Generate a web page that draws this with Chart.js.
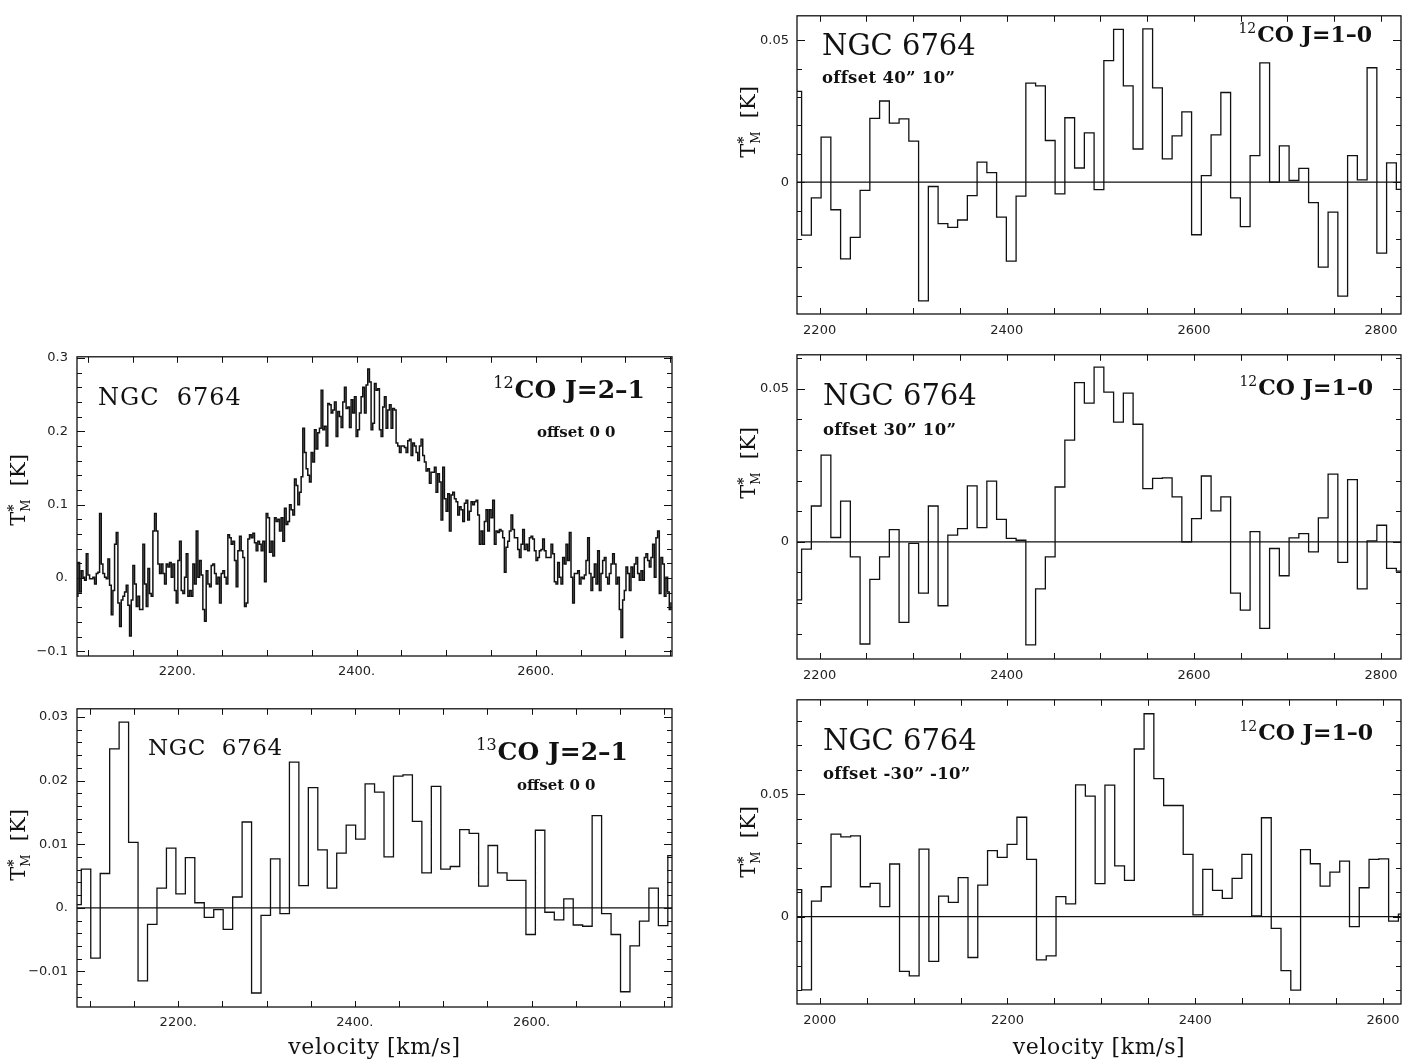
<!DOCTYPE html>
<html>
<head>
<meta charset="utf-8">
<title>NGC 6764 CO spectra</title>
<script src="https://cdn.jsdelivr.net/npm/chart.js@4.4.1/dist/chart.umd.min.js"></script>
<style>
  body { margin: 0; background: #fff; width: 1409px; height: 1064px; position: relative; overflow: hidden; }
  canvas { position: absolute; }
</style>
</head>
<body>
<canvas id="c1"></canvas>
<canvas id="c2"></canvas>
<canvas id="c3"></canvas>
<canvas id="c4"></canvas>
<canvas id="c5"></canvas>
<script>
// ---------------- data (T*M in K) ----------------

// 12CO J=2-1, offset 0 0 : samples start at 2088.1 km/s, one every 1.859 km/s
var co21V0 = 2088.1, co21Dv = 1.859;
var co21T = [
  -0.025, 0.021, -0.019, 0.010, 0.001, -0.003, 0.033, 0.004, -0.001, -0.001,
  0.001, -0.008, 0.006, 0.008, 0.088, 0.019, 0.006, 0.001, -0.001, 0.026,
  -0.010, -0.050, -0.017, 0.046, 0.062, -0.034, -0.066, -0.030, -0.025, -0.019,
  -0.010, -0.037, -0.079, -0.030, 0.017, -0.008, -0.039, -0.025, -0.043, -0.043,
  0.046, -0.008, -0.039, 0.013, -0.021, -0.025, 0.064, 0.088, 0.064, 0.019,
  0.006, 0.019, 0.006, -0.008, 0.019, 0.015, 0.021, 0.001, 0.019, -0.017,
  -0.034, 0.024, 0.050, -0.017, -0.021, 0.001, 0.033, -0.025, -0.017, -0.025,
  0.019, -0.008, 0.064, 0.001, 0.024, 0.004, -0.043, -0.059, 0.010, -0.008,
  -0.012, 0.017, 0.019, 0.006, -0.008, 0.001, -0.034, 0.006, 0.010, 0.001,
  -0.008, 0.059, 0.055, 0.046, 0.050, 0.024, -0.012, 0.037, 0.057, 0.037,
  0.028, -0.039, -0.034, 0.053, 0.059, 0.055, 0.061, 0.048, 0.037, 0.050,
  0.046, 0.037, 0.050, -0.005, 0.088, 0.082, 0.035, 0.050, 0.030, 0.082,
  0.077, 0.080, 0.064, 0.082, 0.050, 0.095, 0.073, 0.077, 0.100, 0.093,
  0.086, 0.135, 0.126, 0.100, 0.117, 0.138, 0.204, 0.171, 0.149, 0.140,
  0.131, 0.171, 0.158, 0.202, 0.176, 0.198, 0.204, 0.256, 0.202, 0.207,
  0.180, 0.238, 0.236, 0.225, 0.229, 0.240, 0.193, 0.227, 0.220, 0.205,
  0.240, 0.260, 0.231, 0.233, 0.205, 0.243, 0.225, 0.247, 0.193, 0.202,
  0.225, 0.247, 0.260, 0.225, 0.263, 0.285, 0.267, 0.202, 0.211, 0.265,
  0.256, 0.258,
  0.202, 0.193, 0.233, 0.247, 0.204, 0.229, 0.236, 0.204, 0.231, 0.229,
  0.184, 0.180, 0.171, 0.180, 0.180, 0.178, 0.171, 0.187, 0.189, 0.167,
  0.184, 0.180, 0.171, 0.160, 0.180, 0.189, 0.167, 0.158, 0.146, 0.149,
  0.129, 0.144, 0.144, 0.151, 0.117, 0.142, 0.131, 0.079, 0.151, 0.108,
  0.091, 0.115, 0.064, 0.113, 0.117, 0.108, 0.104, 0.086, 0.097, 0.093,
  0.077, 0.102, 0.106, 0.079, 0.091, 0.104, 0.100, 0.104, 0.106, 0.086,
  0.046, 0.064, 0.046, 0.077, 0.093, 0.064, 0.093, 0.082, 0.106, 0.046,
  0.064, 0.062, 0.066, 0.064, 0.055, 0.008, 0.042, 0.050, 0.064, 0.086,
  0.066, 0.055, 0.055, 0.039, 0.028, 0.046, 0.066, 0.039, 0.046, 0.037,
  0.055, 0.057, 0.053, 0.037, 0.024, 0.028, 0.037, 0.039, 0.053, 0.037,
  0.028, 0.028, 0.028, 0.046, 0.033, -0.005, -0.008, 0.021, 0.001, -0.008,
  0.028, 0.019, 0.046, 0.024, 0.062, 0.001, -0.034, 0.006, 0.006, 0.010,
  -0.008, 0.001, -0.001, 0.004, 0.024, 0.055, 0.006, -0.017, 0.001, 0.019,
  -0.008, 0.037, -0.017, 0.006, 0.024, 0.028, 0.001, -0.008, 0.006, 0.019,
  0.033, 0.019, -0.008, 0.001, -0.043, -0.081, -0.030, -0.017, 0.015, 0.006,
  -0.017, 0.015, 0.001, 0.019, 0.028, 0.006, -0.003, 0.010, -0.003, 0.028,
  0.033, 0.024, 0.015, 0.028, 0.046, 0.001, 0.055, 0.064, -0.021, 0.028,
  0.019, -0.025, 0.001, -0.019, -0.043, -0.034
];

// 13CO J=2-1, offset 0 0 : channel centres from 2084.9 km/s, width 10.71 km/s
var co13V0 = 2084.9, co13Dv = 10.71;
var co13T = [
  0.0005, 0.0061, -0.0079, 0.0054, 0.0250, 0.0292, 0.0103, -0.0115, -0.0026, 0.0031,
  0.0094, 0.0022, 0.0079, 0.0008, -0.0015, -0.0003, -0.0034, 0.0017, 0.0135, -0.0134,
  -0.0012, 0.0077, -0.0009, 0.0229, 0.0035, 0.0189, 0.0091, 0.0031, 0.0086, 0.0130,
  0.0108, 0.0195, 0.0182, 0.0080, 0.0207, 0.0209, 0.0136, 0.0055, 0.0191, 0.0061,
  0.0065, 0.0123, 0.0117, 0.0034, 0.0098, 0.0055, 0.0043, 0.0043, -0.0042, 0.0122,
  -0.0007, -0.0019, 0.0014, -0.0027, -0.0029, 0.0145, -0.0009, -0.0042, -0.0132, -0.0060,
  -0.0021, 0.0031, -0.0028, 0.0082
];

// 12CO J=1-0 : channel width 10.42 km/s
var co10Dv = 10.42;
var off4010V0 = 2175.5;
var off4010T = [
  0.0320, -0.0186, -0.0055, 0.0159, -0.0097, -0.0270, -0.0194, -0.0029, 0.0225, 0.0286,
  0.0208, 0.0223, 0.0145, -0.0418, -0.0015, -0.0146, -0.0159, -0.0133, -0.0047, 0.0071,
  0.0034, -0.0123, -0.0278, -0.0049, 0.0349, 0.0339, 0.0147, -0.0041, 0.0227, 0.0050,
  0.0174, -0.0026, 0.0428, 0.0538, 0.0339, 0.0117, 0.0540, 0.0332, 0.0082, 0.0163,
  0.0248, -0.0185, 0.0023, 0.0167, 0.0316, -0.0055, -0.0156, 0.0094, 0.0420, 0.0000,
  0.0128, 0.0006, 0.0049, -0.0072, -0.0299, -0.0105, -0.0401, 0.0094, 0.0008, 0.0403,
  -0.0250, 0.0068, -0.0025
];
var off3010V0 = 2175.5;
var off3010T = [
  -0.0190, -0.0024, 0.0117, 0.0283, 0.0014, 0.0133, -0.0049, -0.0334, -0.0123, -0.0049,
  0.0040, -0.0263, -0.0005, -0.0168, 0.0117, -0.0209, 0.0022, 0.0043, 0.0183, 0.0046,
  0.0198, 0.0073, 0.0011, 0.0005, -0.0337, -0.0154, -0.0049, 0.0179, 0.0332, 0.0520,
  0.0453, 0.0571, 0.0489, 0.0391, 0.0486, 0.0384, 0.0174, 0.0207, 0.0209, 0.0147,
  0.0000, 0.0076, 0.0215, 0.0101, 0.0147, -0.0168, -0.0223, 0.0033, -0.0283, -0.0022,
  -0.0111, 0.0013, 0.0027, -0.0033, 0.0078, 0.0221, -0.0067, 0.0203, -0.0154, 0.0003,
  0.0054, -0.0087, -0.0096
];
var offM30M10V0 = 1975.6;
var offM30M10T = [
  0.0110, -0.0299, 0.0063, 0.0122, 0.0337, 0.0326, 0.0330, 0.0122, 0.0136, 0.0041,
  0.0215, -0.0224, -0.0242, 0.0276, -0.0183, 0.0084, 0.0058, 0.0159, -0.0167, 0.0129,
  0.0270, 0.0242, 0.0295, 0.0406, 0.0234, -0.0177, -0.0160, 0.0082, 0.0052, 0.0538,
  0.0492, 0.0135, 0.0537, 0.0207, 0.0148, 0.0685, 0.0829, 0.0564, 0.0454, 0.0454,
  0.0254, 0.0007, 0.0193, 0.0107, 0.0075, 0.0156, 0.0254, 0.0003, 0.0404, -0.0048,
  -0.0221, -0.0300, 0.0274, 0.0216, 0.0125, 0.0182, 0.0227, -0.0041, 0.0118, 0.0234,
  0.0236, -0.0018, 0.0010
];

// tick labels
var leftXTicks = [2200, 2400, 2600];
var leftXLabels = ['2200.', '2400.', '2600.'];
var co21YTicks = [-0.1, 0, 0.1, 0.2, 0.3];
var co21YLabels = ['\u22120.1', '0.', '0.1', '0.2', '0.3'];
var co13YTicks = [-0.01, 0, 0.01, 0.02, 0.03];
var co13YLabels = ['\u22120.01', '0.', '0.01', '0.02', '0.03'];
var rightXTicks = [2200, 2400, 2600, 2800];
var rightXLabels = ['2200', '2400', '2600', '2800'];
var bottomRightXTicks = [2000, 2200, 2400, 2600];
var bottomRightXLabels = ['2000', '2200', '2400', '2600'];
var co10YTicks = [0, 0.05];
var co10YLabels = ['0', '0.05'];

// panel texts
var galaxy = 'NGC 6764';
var xTitle = 'velocity [km/s]';

// ---------------- helpers ----------------
function channels(v0, dv, vals) {
  return vals.map(function (t, i) { return { x: v0 + i * dv, y: t }; });
}
function steps(a, b, step) {
  var out = [];
  for (var i = 0; a + i * step <= b + step * 1e-3; i++) out.push(Math.round((a + i * step) * 1e6) / 1e6);
  return out;
}
function isMajor(v, list) {
  for (var i = 0; i < list.length; i++) if (Math.abs(list[i] - v) < 1e-9) return true;
  return false;
}

function drawText(ctx, t, ox, oy) {
  ctx.save();
  ctx.fillStyle = '#111';
  ctx.textBaseline = 'alphabetic';
  ctx.textAlign = 'left';
  if ('letterSpacing' in ctx) ctx.letterSpacing = (t.spacing || 0) + 'px';
  var main = (t.bold ? 'bold ' : '') + t.size + 'px "DejaVu Serif"';
  var supF = Math.round(t.size * 0.62) + 'px "DejaVu Serif"';
  ctx.font = main;
  var wMain = ctx.measureText(t.text).width;
  var wSup = 0;
  if (t.sup) { ctx.font = supF; wSup = ctx.measureText(t.sup).width + 1; }
  var x = t.x - ox;
  if (t.align === 'right') x -= wMain + wSup;
  var y = t.y - oy;
  if (t.sup) { ctx.font = supF; ctx.fillText(t.sup, x, y - t.size * 0.4); x += wSup; }
  ctx.font = main;
  ctx.fillText(t.text, x, y);
  ctx.restore();
}

function drawYTitle(ctx, cx, cy) {
  ctx.save();
  ctx.translate(cx, cy);
  ctx.rotate(-Math.PI / 2);
  ctx.fillStyle = '#111';
  ctx.textBaseline = 'alphabetic';
  ctx.textAlign = 'left';
  var fBig = '21px "DejaVu Serif"', fSmall = '12px "DejaVu Serif"', fStar = 'bold 14px "DejaVu Serif"';
  ctx.font = fBig;
  var wT = ctx.measureText('T').width, wK = ctx.measureText('  [K]').width;
  ctx.font = fSmall;
  var wM = ctx.measureText('M').width;
  var x = -(wT + wM + wK) / 2, base = 7;
  ctx.font = fBig; ctx.fillText('T', x, base);
  ctx.font = fStar; ctx.fillText('*', x + wT, base - 7);
  ctx.font = fSmall; ctx.fillText('M', x + wT, base + 5);
  ctx.font = fBig; ctx.fillText('  [K]', x + wT + wM, base);
  ctx.restore();
}

// ---------------- one spectrum panel ----------------
function spectrumPanel(id, p) {
  var padTop = Math.min(15, p.box[1]);
  var axisH = p.xTitle ? 1064 - p.box[3] : 30;
  var ox = p.box[0] - 77, oy = p.box[1] - padTop;
  var w = p.box[2] - p.box[0] + 77 + 8;
  var h = p.box[3] - p.box[1] + padTop + axisH;
  var cv = document.getElementById(id);
  cv.width = w; cv.height = h;
  cv.style.left = ox + 'px'; cv.style.top = oy + 'px';
  cv.style.width = w + 'px'; cv.style.height = h + 'px';

  var deco = {
    id: 'deco_' + id,
    beforeDatasetsDraw: function (chart) {
      if (!p.zeroLine) return;
      var ctx = chart.ctx, a = chart.chartArea, py = chart.scales.y.getPixelForValue(0);
      ctx.save();
      ctx.strokeStyle = '#111'; ctx.lineWidth = 1.2;
      ctx.beginPath(); ctx.moveTo(a.left, py); ctx.lineTo(a.right, py); ctx.stroke();
      ctx.restore();
    },
    afterDraw: function (chart) {
      var ctx = chart.ctx, a = chart.chartArea, sx = chart.scales.x, sy = chart.scales.y;
      ctx.save();
      ctx.strokeStyle = '#111';
      ctx.lineWidth = 1.3;
      ctx.strokeRect(a.left, a.top, a.right - a.left, a.bottom - a.top);
      ctx.lineWidth = 1;
      ctx.beginPath();
      p.xMinor.forEach(function (v) {
        var px = Math.round(sx.getPixelForValue(v)) + 0.5;
        ctx.moveTo(px, a.bottom); ctx.lineTo(px, a.bottom - 6);
        ctx.moveTo(px, a.top); ctx.lineTo(px, a.top + 6);
      });
      p.yMinor.forEach(function (v) {
        var py = Math.round(sy.getPixelForValue(v)) + 0.5;
        var len = isMajor(v, p.yTicks) ? 8 : 5;
        ctx.moveTo(a.left, py); ctx.lineTo(a.left + len, py);
        ctx.moveTo(a.right, py); ctx.lineTo(a.right - len, py);
      });
      ctx.stroke();
      ctx.restore();
      p.texts.forEach(function (t) { drawText(chart.ctx, t, ox, oy); });
      drawYTitle(chart.ctx, p.yTitle[0] - ox, p.yTitle[1] - oy);
      if (p.xTitle) {
        ctx.save();
        ctx.fillStyle = '#111';
        ctx.font = '22px "DejaVu Serif"';
        ctx.textAlign = 'center';
        ctx.textBaseline = 'alphabetic';
        if ('letterSpacing' in ctx) ctx.letterSpacing = '0.6px';
        ctx.fillText(xTitle, (a.left + a.right) / 2, 1054 - oy);
        ctx.restore();
      }
    }
  };

  return new Chart(cv, {
    type: 'line',
    data: {
      datasets: [{
        data: channels(p.v0, p.dv, p.values),
        stepped: 'middle',
        borderColor: '#111',
        borderWidth: p.lineW || 1.3,
        pointRadius: 0,
        fill: false
      }]
    },
    options: {
      responsive: false,
      animation: false,
      devicePixelRatio: 1,
      layout: { padding: { top: padTop, right: 8, left: 0, bottom: 0 } },
      plugins: { legend: { display: false }, tooltip: { enabled: false } },
      scales: {
        x: {
          type: 'linear',
          min: p.xRange[0], max: p.xRange[1],
          grid: { display: false, drawTicks: false },
          border: { display: false },
          afterBuildTicks: function (s) { s.ticks = p.xTicks.map(function (v) { return { value: v }; }); },
          afterFit: function (s) { s.height = axisH; },
          ticks: {
            autoSkip: false, maxRotation: 0, padding: p.xPad, color: '#222',
            font: { family: 'DejaVu Sans', size: p.tickSize },
            callback: function (v, i) { return p.xLabels[i]; }
          }
        },
        y: {
          type: 'linear',
          min: p.yRange[0], max: p.yRange[1],
          grid: { display: false, drawTicks: false },
          border: { display: false },
          afterBuildTicks: function (s) { s.ticks = p.yTicks.map(function (v) { return { value: v }; }); },
          afterFit: function (s) { s.width = 77; },
          ticks: {
            padding: p.yPad, color: '#222',
            font: { family: 'DejaVu Sans', size: p.tickSize },
            callback: function (v, i) { return p.yLabels[i]; }
          }
        }
      }
    },
    plugins: [deco]
  });
}

// ---------------- the five panels ----------------
spectrumPanel('c1', {
  box: [77, 355, 672, 656], xRange: [2088, 2752], yRange: [-0.1063, 0.3015],
  v0: co21V0, dv: co21Dv, values: co21T, lineW: 1.5,
  xTicks: leftXTicks, xLabels: leftXLabels, yTicks: co21YTicks, yLabels: co21YLabels,
  xMinor: steps(2100, 2750, 50), yMinor: steps(-0.1, 0.3, 0.02),
  tickSize: 13, xPad: 8, yPad: 9, zeroLine: false, xTitle: false, yTitle: [18, 490],
  texts: [
    { text: 'NGC  6764', x: 98, y: 405, size: 24, spacing: 1 },
    { text: 'CO J=2\u20131', sup: '12', x: 645, y: 398, size: 25, bold: true, align: 'right' },
    { text: 'offset 0 0', x: 537, y: 437, size: 15, bold: true }
  ]
});

spectrumPanel('c2', {
  box: [77, 707, 672, 1007], xRange: [2085.4, 2759], yRange: [-0.0156, 0.0313],
  v0: co13V0, dv: co13Dv, values: co13T,
  xTicks: leftXTicks, xLabels: leftXLabels, yTicks: co13YTicks, yLabels: co13YLabels,
  xMinor: steps(2100, 2750, 50), yMinor: steps(-0.014, 0.030, 0.002),
  tickSize: 13, xPad: 8, yPad: 9, zeroLine: true, xTitle: true, yTitle: [18, 845],
  texts: [
    { text: 'NGC  6764', x: 148, y: 755, size: 23, spacing: 0.6 },
    { text: 'CO J=2\u20131', sup: '13', x: 628, y: 760, size: 25, bold: true, align: 'right' },
    { text: 'offset 0 0', x: 517, y: 790, size: 15, bold: true }
  ]
});

spectrumPanel('c3', {
  box: [797, 8, 1401, 314], xRange: [2175.8, 2821.3], yRange: [-0.0464, 0.0586],
  v0: off4010V0, dv: co10Dv, values: off4010T,
  xTicks: rightXTicks, xLabels: rightXLabels, yTicks: co10YTicks, yLabels: co10YLabels,
  xMinor: steps(2200, 2800, 50), yMinor: steps(-0.04, 0.05, 0.01),
  tickSize: 13, xPad: 9, yPad: 8, zeroLine: true, xTitle: false, yTitle: [748, 122],
  texts: [
    { text: galaxy, x: 822, y: 55, size: 29 },
    { text: 'offset 40\u201d 10\u201d', x: 822, y: 83, size: 16.5, bold: true, spacing: 0.3 },
    { text: 'CO J=1\u20130', sup: '12', x: 1372, y: 42, size: 22, bold: true, align: 'right' }
  ]
});

spectrumPanel('c4', {
  box: [797, 354, 1401, 659], xRange: [2175.8, 2821.3], yRange: [-0.0383, 0.0611],
  v0: off3010V0, dv: co10Dv, values: off3010T,
  xTicks: rightXTicks, xLabels: rightXLabels, yTicks: co10YTicks, yLabels: co10YLabels,
  xMinor: steps(2200, 2800, 50), yMinor: steps(-0.03, 0.06, 0.01),
  tickSize: 13, xPad: 9, yPad: 8, zeroLine: true, xTitle: false, yTitle: [748, 463],
  texts: [
    { text: galaxy, x: 823, y: 405, size: 29 },
    { text: 'offset 30\u201d 10\u201d', x: 823, y: 435, size: 16.5, bold: true, spacing: 0.3 },
    { text: 'CO J=1\u20130', sup: '12', x: 1373, y: 395, size: 22, bold: true, align: 'right' }
  ]
});

spectrumPanel('c5', {
  box: [797, 699, 1401, 1004], xRange: [1975.8, 2619.2], yRange: [-0.0357, 0.0886],
  v0: offM30M10V0, dv: co10Dv, values: offM30M10T,
  xTicks: bottomRightXTicks, xLabels: bottomRightXLabels, yTicks: co10YTicks, yLabels: co10YLabels,
  xMinor: steps(2000, 2600, 50), yMinor: steps(-0.03, 0.08, 0.01),
  tickSize: 13, xPad: 9, yPad: 8, zeroLine: true, xTitle: true, yTitle: [748, 842],
  texts: [
    { text: galaxy, x: 823, y: 750, size: 29 },
    { text: 'offset -30\u201d -10\u201d', x: 823, y: 779, size: 16.5, bold: true, spacing: 0.3 },
    { text: 'CO J=1\u20130', sup: '12', x: 1373, y: 740, size: 22, bold: true, align: 'right' }
  ]
});
</script>
</body>
</html>
